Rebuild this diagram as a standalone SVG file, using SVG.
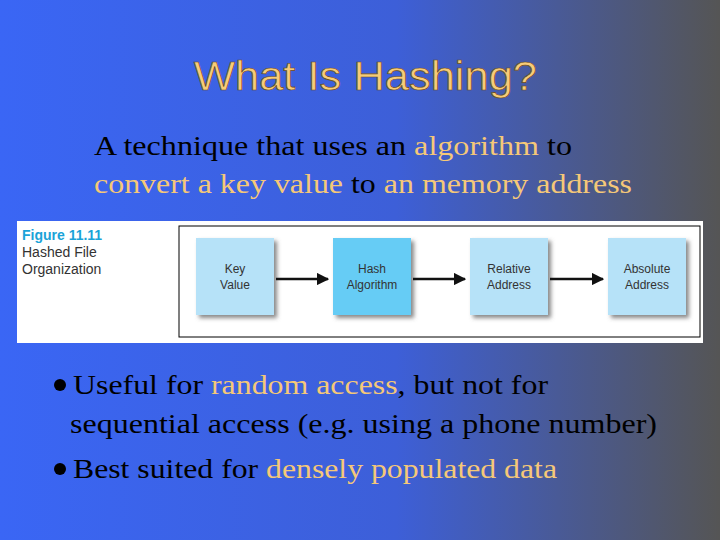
<svg xmlns="http://www.w3.org/2000/svg" width="720" height="540" viewBox="0 0 720 540">
<defs>
<linearGradient id="bg" x1="0" y1="0" x2="1" y2="0">
<stop offset="0" stop-color="#3a66f5"/><stop offset="0.55" stop-color="#3d5fd8"/><stop offset="1" stop-color="#555555"/>
</linearGradient>
<marker id="ah" viewBox="0 0 10 10" refX="9" refY="5" markerWidth="5" markerHeight="5" orient="auto"><path d="M0,0L10,5L0,10z" fill="#111"/></marker>
<filter id="sh" x="-10%" y="-10%" width="130%" height="130%"><feDropShadow dx="3" dy="3" stdDeviation="2" flood-color="#555" flood-opacity="0.7"/></filter>
</defs>
<style>
.t{font-family:"Liberation Serif",serif;font-size:28px;fill:#000}
.h{fill:#f5c878}
.b{fill:#b6e2f8;filter:url(#sh)}
.lb{font-family:"Liberation Sans",Arial,sans-serif;font-size:12px;fill:#333;text-anchor:middle}
.c{stroke:#111;stroke-width:2.5;marker-end:url(#ah)}
</style>
<rect width="720" height="540" fill="url(#bg)"/>
<text x="194" y="90" textLength="343" lengthAdjust="spacingAndGlyphs" font-family="Liberation Sans,Arial,sans-serif" font-size="40" fill="#f7cc78" stroke="#6a4a20" stroke-width="0.7">What Is Hashing?</text>
<text class="t" x="94" y="155" textLength="478" lengthAdjust="spacingAndGlyphs">A technique that uses an <tspan class="h">algorithm</tspan> to</text>
<text class="t" x="94" y="193" textLength="538" lengthAdjust="spacingAndGlyphs"><tspan class="h">convert a key value</tspan> to <tspan class="h">an memory address</tspan></text>
<rect x="17" y="221" width="686" height="122" fill="#fff"/>
<rect x="179" y="226" width="521" height="111" fill="#fff" stroke="#000" stroke-width="1"/>
<text x="22" y="240" font-family="Liberation Sans,Arial,sans-serif" font-size="14" font-weight="bold" fill="#1aa3d8">Figure 11.11</text>
<text x="22" y="257" font-family="Liberation Sans,Arial,sans-serif" font-size="14" fill="#333">Hashed File</text>
<text x="22" y="274" font-family="Liberation Sans,Arial,sans-serif" font-size="14" fill="#333">Organization</text>
<g id="n1"><rect class="b" x="196" y="238" width="78" height="77"/><text class="lb" x="235" y="273">Key</text><text class="lb" x="235" y="289">Value</text></g>
<g id="n2"><rect class="b" x="333" y="238" width="78" height="77" style="fill:#66ccf5"/><text class="lb" x="372" y="273">Hash</text><text class="lb" x="372" y="289">Algorithm</text></g>
<g id="n3"><rect class="b" x="470" y="238" width="78" height="77"/><text class="lb" x="509" y="273">Relative</text><text class="lb" x="509" y="289">Address</text></g>
<g id="n4"><rect class="b" x="608" y="238" width="78" height="77"/><text class="lb" x="647" y="273">Absolute</text><text class="lb" x="647" y="289">Address</text></g>
<g id="connectors">
<line class="c" x1="276" y1="279" x2="328" y2="279"/>
<line class="c" x1="413" y1="279" x2="465" y2="279"/>
<line class="c" x1="550" y1="279" x2="603" y2="279"/>
</g>
<circle cx="60" cy="385" r="6" fill="#000"/>
<text class="t" x="73" y="394" textLength="475" lengthAdjust="spacingAndGlyphs">Useful for <tspan class="h">random access</tspan>, but not for</text>
<text class="t" x="70" y="433" textLength="587" lengthAdjust="spacingAndGlyphs">sequential access (e.g. using a phone number)</text>
<circle cx="60" cy="469" r="6" fill="#000"/>
<text class="t" x="73" y="478" textLength="484" lengthAdjust="spacingAndGlyphs">Best suited for <tspan class="h">densely populated data</tspan></text>
</svg>
